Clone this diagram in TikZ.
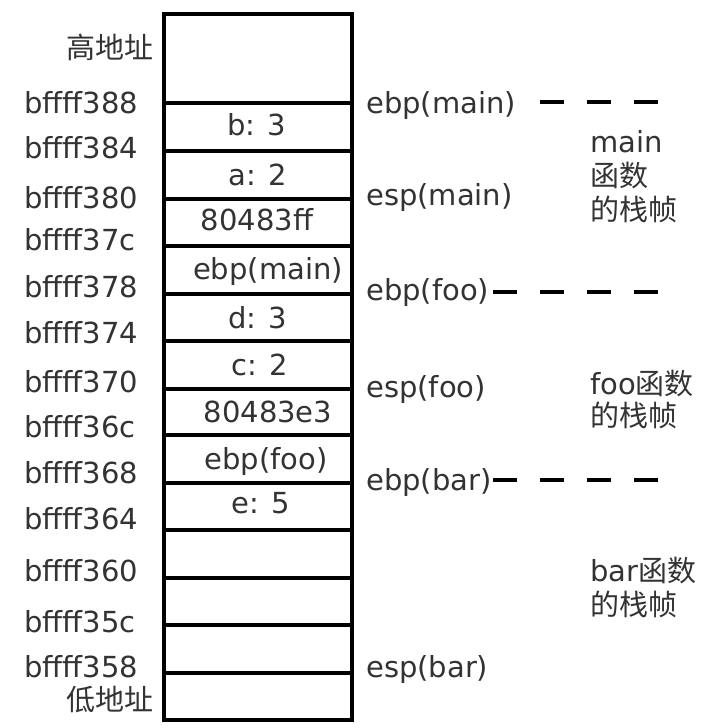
\documentclass[tikz,border=0pt]{standalone}
\usepackage{fontspec}
\setmainfont{DejaVu Sans}
\newfontfamily\cjk{Noto Sans CJK SC}
\definecolor{txt}{rgb}{0.2,0.2,0.2}
\begin{document}
\begin{tikzpicture}[x=1pt,y=-1pt,
  cell/.style={draw=black,line width=3.6pt,minimum width=188pt,anchor=north west,inner sep=0pt},
  lbl/.style={inner sep=0pt,text=txt,font=\fontsize{29}{33}\selectfont},
  addr/.style={lbl,anchor=base west},
  val/.style={lbl,anchor=base},
  reg/.style={lbl,anchor=base west},
  frame/.style={lbl,anchor=base west},
  dashline/.style={draw=black,line width=3.8pt,dash pattern=on 24pt off 23pt}]
\useasboundingbox (0,0) rectangle (720,728);
\fill[white] (0,0) rectangle (720,728);
% stack cells
\foreach \i/\t/\b in {0/12/101,1/101/149,2/149/197,3/197/244,4/244/292,5/292/339,6/339/387,7/387/433,8/433/481,9/481/528,10/528/576,11/576/623,12/623/671,13/671/718}
  \node[cell,minimum height={(\b-\t)*1pt}] (cell\i) at (162,\t) {};
% cell contents
\node[val] (vb) at (257,135) {b: 3};
\node[val] (va) at (258,185) {a: 2};
\node[val] (vr1) at (257,230) {80483ff};
\node[val] (vebpm) at (268,279) {ebp(main)};
\node[val] (vd) at (258,328) {d: 3};
\node[val] (vc) at (260,375) {c: 2};
\node[val] (vr2) at (268,422) {80483e3};
\node[val] (vebpf) at (266,469) {ebp(foo)};
\node[val] (ve) at (261,513) {e: 5};
% addresses
\node[lbl,anchor=base east] (high) at (154,58) {\cjk 高地址};
\node[addr] (a388) at (24,113) {bffff388};
\node[addr] (a384) at (24,158) {bffff384};
\node[addr] (a380) at (24,208) {bffff380};
\node[addr] (a37c) at (24,250) {bffff37c};
\node[addr] (a378) at (24,297) {bffff378};
\node[addr] (a374) at (24,343) {bffff374};
\node[addr] (a370) at (24,392) {bffff370};
\node[addr] (a36c) at (24,437) {bffff36c};
\node[addr] (a368) at (24,483) {bffff368};
\node[addr] (a364) at (24,529) {bffff364};
\node[addr] (a360) at (24,581) {bffff360};
\node[addr] (a35c) at (24,632) {bffff35c};
\node[addr] (a358) at (24,677) {bffff358};
\node[lbl,anchor=base east] (low) at (154,710) {\cjk 低地址};
% registers
\node[reg] (ebpmain) at (366,113) {ebp(main)};
\node[reg] (espmain) at (366,205) {esp(main)};
\node[reg] (ebpfoo) at (366,300) {ebp(foo)};
\node[reg] (espfoo) at (366,397) {esp(foo)};
\node[reg] (ebpbar) at (366,490) {ebp(bar)};
\node[reg] (espbar) at (366,677) {esp(bar)};
% frame labels
\node[frame] (fmain) at (590,152) {\vtop{\baselineskip=34pt\hbox{main}\hbox{\cjk 函数}\hbox{\cjk 的栈帧}}};
\node[frame] (ffoo) at (590,394) {\vtop{\baselineskip=32pt\hbox{foo\cjk 函数}\hbox{\cjk 的栈帧}}};
\node[frame] (fbar) at (590,581) {\vtop{\baselineskip=34pt\hbox{bar\cjk 函数}\hbox{\cjk 的栈帧}}};
% dashed boundaries
\coordinate (dmS) at (540,102);
\coordinate (dmE) at (658,102);
\coordinate (dfS) at (493,292);
\coordinate (dfE) at (658,292);
\coordinate (dbS) at (493,480);
\coordinate (dbE) at (658,480);
\draw[dashline] (dmS) -- (dmE);
\draw[dashline] (dfS) -- (dfE);
\draw[dashline] (dbS) -- (dbE);
\end{tikzpicture}
\end{document}
